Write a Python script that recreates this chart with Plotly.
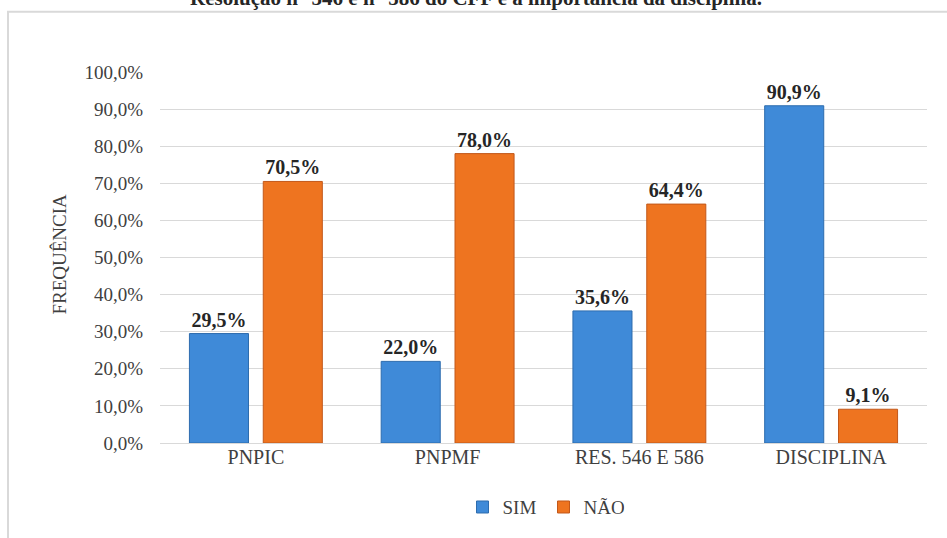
import plotly.graph_objects as go

# Survey answers per topic (percent of respondents)
categories = ["PNPIC", "PNPMF", "RES. 546 E 586", "DISCIPLINA"]
sim_values = [29.5, 22.0, 35.6, 90.9]
nao_values = [70.5, 78.0, 64.4, 9.1]
y_ticks = [0, 10, 20, 30, 40, 50, 60, 70, 80, 90, 100]
y_tick_labels = [f"{v:.1f}%".replace(".", ",") for v in y_ticks]

W, H = 947, 538
L, R, T, B = 160, 20, 72, 90
PW, PH = W - L - R, H - T - B


def px_x(p):
    return (p - L) / PW


def px_y(p):
    return (H - B - p) / PH


SERIF = "Liberation Serif"
DARK = "#262626"
GREY = "#404040"

fig = go.Figure()
fig.add_trace(go.Bar(
    name="SIM", x=categories, y=sim_values,
    marker=dict(color="#3f8ad8", line=dict(color="#2d6cae", width=1)),
    texttemplate="<b>%{y:.1f}%</b>", textposition="outside", cliponaxis=False,
    textfont=dict(family=SERIF, size=20, color=DARK),
))
fig.add_trace(go.Bar(
    name="NÃO", x=categories, y=nao_values,
    marker=dict(color="#ee7420", line=dict(color="#c2581a", width=1)),
    texttemplate="<b>%{y:.1f}%</b>", textposition="outside", cliponaxis=False,
    textfont=dict(family=SERIF, size=20, color=DARK),
))

fig.update_layout(
    width=W, height=H,
    margin=dict(l=L, r=R, t=T, b=B),
    paper_bgcolor="white", plot_bgcolor="white",
    separators=",.",
    barmode="group", bargap=0.23, bargroupgap=0.2,
    font=dict(family=SERIF, size=19, color=GREY),
    showlegend=True,
    legend=dict(orientation="h", x=0.5, xanchor="center", y=px_y(513), yanchor="middle",
                font=dict(family=SERIF, size=19, color=GREY),
                itemwidth=30, entrywidth=36, entrywidthmode="pixels", traceorder="normal"),
    xaxis=dict(showline=False, ticks="", tickfont=dict(family=SERIF, size=20, color=GREY)),
    yaxis=dict(range=[0, 100], tickvals=y_ticks, ticktext=y_tick_labels,
               showgrid=True, gridcolor="#d9d9d9", gridwidth=1,
               zeroline=True, zerolinecolor="#d9d9d9", zerolinewidth=1,
               tickfont=dict(family=SERIF, size=19, color=GREY), ticklabelstandoff=16),
    shapes=[dict(type="rect", xref="paper", yref="paper",
                 x0=px_x(8), x1=px_x(960), y0=px_y(560), y1=px_y(11),
                 line=dict(color="#d9d9d9", width=2), fillcolor="rgba(0,0,0,0)", layer="below")],
    annotations=[
        dict(text="<b>Resolução n° 546 e n° 586 do CFF e a importância da disciplina.</b>",
             xref="paper", yref="paper", x=px_x(476), y=px_y(11), xanchor="center", yanchor="bottom",
             showarrow=False, font=dict(family=SERIF, size=21, color=DARK)),
        dict(text="FREQUÊNCIA", textangle=-90, xref="paper", yref="paper",
             x=px_x(60), y=px_y(257), xanchor="center", yanchor="middle",
             showarrow=False, font=dict(family=SERIF, size=19, color=GREY)),
    ],
)

fig.write_html("out.html")
